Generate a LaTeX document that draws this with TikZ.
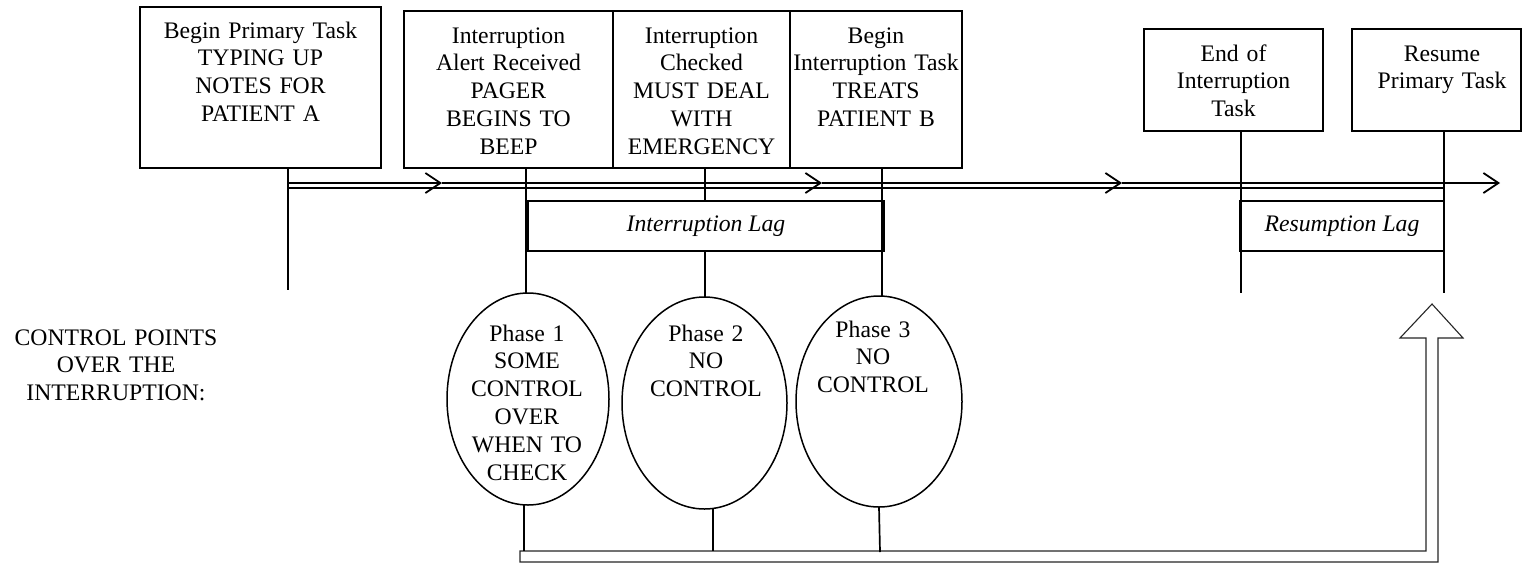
\documentclass[tikz,border=0pt]{standalone}
\usepackage{fontspec}
\setmainfont{Liberation Serif}
\usetikzlibrary{arrows.meta,shapes.geometric,calc}
\begin{document}
\begin{tikzpicture}[x=1pt,y=-1pt,
  every node/.style={inner sep=0pt, outer sep=0pt},
  txt/.style={font=\fontsize{23.7}{27.8}\selectfont, align=center, text width=260pt, anchor=base},
  evbox/.style={draw, line width=1.8pt, rectangle},
  lagbox/.style={draw, line width=1.8pt, rectangle, minimum height=50pt,
                 font=\fontsize{23.7}{27.8}\selectfont\itshape},
  phase/.style={draw, ellipse, line width=1.5pt},
  tick/.style={line width=1.7pt},
  rail/.style={line width=1.8pt},
  chev/.style={rail, -{Straight Barb[length=15pt,width=20pt]}},
  hollow/.style={draw=black!85, line width=1.1pt, fill=white}
]
\useasboundingbox (0,0) rectangle (1522,563);

% event boxes along the top
\node[evbox, minimum width=241pt, minimum height=161pt] (b1) at (260.5,87.5) {};
\node[evbox, minimum width=209pt, minimum height=157pt] (b2) at (508.5,89.5) {};
\node[evbox, minimum width=177pt, minimum height=157pt] (b3) at (701.5,89.5) {};
\node[evbox, minimum width=172pt, minimum height=157pt] (b4) at (876,89.5) {};
\node[evbox, minimum width=179pt, minimum height=102pt] (b5) at (1233.5,80) {};
\node[evbox, minimum width=169pt, minimum height=102pt] (b6) at (1436.5,80) {};

\node[txt] (b1t) at (260.5,38) {Begin Primary Task\\TYPING UP\\NOTES FOR\\PATIENT A};
\node[txt] (b2t) at (508.5,43) {Interruption\\Alert Received\\PAGER\\BEGINS TO\\BEEP};
\node[txt] (b3t) at (701.5,43) {Interruption\\Checked\\MUST DEAL\\WITH\\EMERGENCY};
\node[txt] (b4t) at (876,43) {Begin\\Interruption Task\\TREATS\\PATIENT B};
\node[txt] (b5t) at (1233.5,61) {End of\\Interruption\\Task};
\node[txt] (b6t) at (1442,61) {Resume\\Primary Task};

% lag boxes
\node[lagbox, minimum width=356pt] (lag1) at (706,226) {Interruption Lag};
\node[lagbox, minimum width=204pt] (lag2) at (1342,226) {Resumption Lag};

% phase ellipses
\node[phase, minimum width=162pt, minimum height=212pt] (e1) at (528,399) {};
\node[phase, minimum width=165pt, minimum height=212pt] (e2) at (704.5,403) {};
\node[phase, minimum width=166pt, minimum height=211pt] (e3) at (879,401.5) {};

\node[txt] (e1t) at (527,341) {Phase 1\\SOME\\CONTROL\\OVER\\WHEN TO\\CHECK};
\node[txt] (e2t) at (706,341) {Phase 2\\NO\\CONTROL};
\node[txt] (e3t) at (873,337) {Phase 3\\NO\\CONTROL};

\node[txt] (ctl) at (116,345) {CONTROL POINTS\\OVER THE\\INTERRUPTION:};

% x positions of the event ticks
\coordinate (xP) at (288,0);
\coordinate (xA) at (526,0);
\coordinate (xB) at (705,0);
\coordinate (xC) at (882,0);
\coordinate (xD) at (1241,0);
\coordinate (xE) at (1444,0);

% time line (double rail)
\coordinate (t0) at (288,183);
\coordinate (t1) at (442,183);
\coordinate (t2) at (822,183);
\coordinate (t3) at (1122,183);
\coordinate (t4) at (1500,183);
\coordinate (u0) at (288,188);
\coordinate (u1) at (1444,188);
\draw[chev] (t0) -- (t1);
\draw[chev] (t1) -- (t2);
\draw[chev] (t2) -- (t3);
\draw[chev] (t3) -- (t4);
\draw[rail] (u0) -- (u1);

% ticks from the event boxes
\coordinate (pEnd) at (288,290);
\coordinate (dEnd) at (1241,293);
\coordinate (eEnd) at (1444,293);
\draw[tick] (b1.south -| xP) -- (pEnd);
\draw[tick] (b2.south -| xA) -- (e1.north -| xA);
\draw[tick] (b3.south -| xB) -- (lag1.north -| xB);
\draw[tick] (lag1.south -| xB) -- (e2.north -| xB);
\draw[tick] (b4.south -| xC) -- (e3.north -| xC);
\draw[tick] (b5.south -| xD) -- (dEnd);
\draw[tick] (b6.south -| xE) -- (eEnd);

% hollow return arrow
\draw[hollow] (520,551) -- (1426,551) -- (1426,338) -- (1400,338) -- (1432,304)
  -- (1463,338) -- (1438,338) -- (1438,562) -- (520,562) -- cycle;

% stems from the phases down to the return arrow
\coordinate (xF) at (524,0);
\coordinate (xG) at (713,0);
\coordinate (xH) at (879,0);
\coordinate (f1) at (524,551);
\coordinate (f2) at (713,551);
\coordinate (f3) at (880,552);
\draw[tick] (e1.south -| xF) -- (f1);
\draw[tick] ($(e2.south -| xG)+(0,-1)$) -- (f2);
\draw[tick] (e3.south -| xH) -- (f3);
\end{tikzpicture}
\end{document}
